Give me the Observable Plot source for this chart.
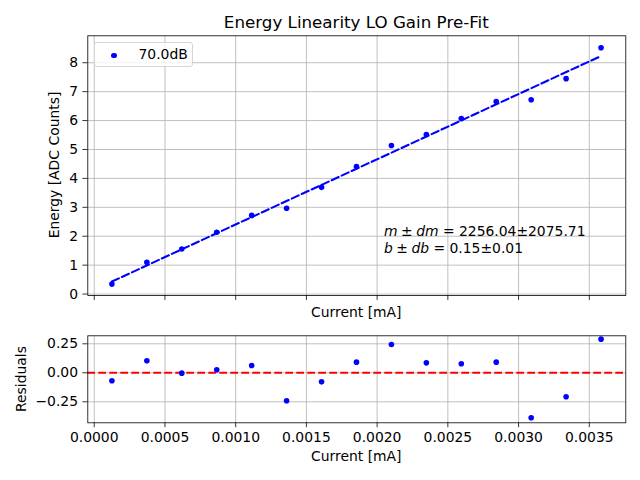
<!DOCTYPE html>
<html>
<head>
<meta charset="utf-8">
<script src="https://cdn.jsdelivr.net/npm/d3@7"></script>
<script src="https://cdn.jsdelivr.net/npm/@observablehq/plot@0.6"></script>
<style>
  html, body { margin: 0; padding: 0; background: #fff; }
  #wrap { position: relative; width: 640px; height: 480px; font-family: "DejaVu Sans", sans-serif; color: #000; overflow: hidden; }
  #wrap svg { position: absolute; left: 0; font-family: "DejaVu Sans", sans-serif; }
  .lbl { position: absolute; white-space: nowrap; line-height: 1; transform: translate(-50%, -50%); }
</style>
</head>
<body>
<div id="wrap"></div>
<script>
// ---- data ----
const currents = [0.000125, 0.000372, 0.000619, 0.000866, 0.001113, 0.00136, 0.001607, 0.001854,
                  0.002101, 0.002348, 0.002595, 0.002842, 0.003089, 0.003336, 0.003583];
const energies = [0.345, 1.10, 1.56, 2.14, 2.72, 2.97, 3.69, 4.41, 5.14, 5.52, 6.07, 6.66, 6.72, 7.45, 8.52];
const residuals = [-0.069, 0.103, -0.003, 0.026, 0.063, -0.241, -0.078, 0.092, 0.244, 0.086, 0.078, 0.092, -0.388, -0.207, 0.290];
const fitSlope = 2256.04, fitSlopeErr = 2075.71, fitIntercept = 0.15, fitInterceptErr = 0.01;
const seriesName = "70.0dB";
const xTicks = [0, 0.0005, 0.001, 0.0015, 0.002, 0.0025, 0.003, 0.0035];
const yTicksTop = [0, 1, 2, 3, 4, 5, 6, 7, 8];
const yTicksRes = [-0.25, 0, 0.25];

const points = currents.map((c, i) => ({x: c, y: energies[i], r: residuals[i]}));
const fitLine = [currents[0], currents[currents.length - 1]].map(c => ({x: c, y: fitSlope * c + fitIntercept}));

const xDomain = [-0.0000455, 0.003758];
const grid = {stroke: "#b0b0b0", strokeOpacity: 1, strokeWidth: 0.8};
const fs = 13.9;

const wrap = document.getElementById("wrap");

const topPlot = Plot.plot({
  width: 640, height: 330,
  marginLeft: 87.3, marginRight: 14.7, marginTop: 35.3, marginBottom: 35,
  style: {fontSize: fs + "px", fontFamily: "DejaVu Sans", background: "transparent"},
  x: {domain: xDomain},
  y: {domain: [-0.05, 8.932]},
  marks: [
    Plot.gridX(xTicks, grid),
    Plot.gridY(yTicksTop, grid),
    Plot.axisX(xTicks, {tickSize: 4.9, tickFormat: () => "", label: null, strokeWidth: 0.8}),
    Plot.axisY(yTicksTop, {tickSize: 4.9, tickPadding: 4.9, tickFormat: d => String(d), label: null, strokeWidth: 0.8, fontSize: fs}),
    Plot.line(fitLine, {x: "x", y: "y", stroke: "#0000ff", strokeWidth: 2.08, strokeDasharray: "7.7,3.3"}),
    Plot.dot(points, {x: "x", y: "y", r: 2.8, fill: "#0000ff"}),
    Plot.frame({stroke: "#000", strokeWidth: 0.8})
  ]
});
topPlot.style.top = "0px";
wrap.appendChild(topPlot);

const bottomPlot = Plot.plot({
  width: 640, height: 150,
  marginLeft: 87.3, marginRight: 14.7, marginTop: 5.3, marginBottom: 57.7,
  style: {fontSize: fs + "px", fontFamily: "DejaVu Sans", background: "transparent"},
  x: {domain: xDomain},
  y: {domain: [-0.431, 0.319]},
  marks: [
    Plot.gridX(xTicks, grid),
    Plot.gridY(yTicksRes, grid),
    Plot.axisX(xTicks, {tickSize: 4.9, tickPadding: 4.9, tickFormat: d3.format(".4f"), label: null, strokeWidth: 0.8, fontSize: fs}),
    Plot.axisY(yTicksRes, {tickSize: 4.9, tickPadding: 4.9, tickFormat: d3.format(".2f"), label: null, strokeWidth: 0.8, fontSize: fs}),
    Plot.ruleY([0], {stroke: "#ff0000", strokeWidth: 2.08, strokeDasharray: "7.7,3.3"}),
    Plot.dot(points, {x: "x", y: "r", r: 2.8, fill: "#0000ff"}),
    Plot.frame({stroke: "#000", strokeWidth: 0.8})
  ]
});
bottomPlot.style.top = "330px";
wrap.appendChild(bottomPlot);

function label(text, x, y, size, rotate) {
  const d = document.createElement("div");
  d.className = "lbl";
  d.style.left = x + "px";
  d.style.top = y + "px";
  d.style.fontSize = size + "px";
  if (rotate) d.style.transform = "translate(-50%, -50%) rotate(-90deg)";
  d.textContent = text;
  wrap.appendChild(d);
  return d;
}
label("Energy Linearity LO Gain Pre-Fit", 356.3, 21.5, 16.7);
label("Current [mA]", 356.3, 312.5, fs);
label("Current [mA]", 356.3, 456.7, fs);
label("Energy [ADC Counts]", 55, 165.2, fs, true);
label("Residuals", 22, 378.8, fs, true);

// annotation
const ann = document.createElement("div");
ann.style.cssText = "position:absolute;left:384px;top:223px;font-size:" + fs + "px;line-height:16.8px;white-space:nowrap;";
const sp = "\u2005";
ann.innerHTML = "<i>m</i>" + sp + "±" + sp + "<i>dm</i> = " + fitSlope.toFixed(2) + "±" + fitSlopeErr.toFixed(2) +
                "<br><i>b</i>" + sp + "±" + sp + "<i>db</i> = " + fitIntercept.toFixed(2) + "±" + fitInterceptErr.toFixed(2);
wrap.appendChild(ann);

// legend
const leg = document.createElement("div");
leg.style.cssText = "position:absolute;left:94px;top:42px;width:99px;height:25px;box-sizing:border-box;border:1px solid #d6d6d6;border-radius:3px;background:rgba(255,255,255,0.8);";
leg.innerHTML = '<span style="position:absolute;left:16px;top:9.5px;width:5.6px;height:5.6px;border-radius:50%;background:#0000ff;"></span>' +
                '<span style="position:absolute;left:43.5px;top:5px;font-size:' + fs + 'px;line-height:1;">' + seriesName + '</span>';
wrap.appendChild(leg);
</script>
</body>
</html>
